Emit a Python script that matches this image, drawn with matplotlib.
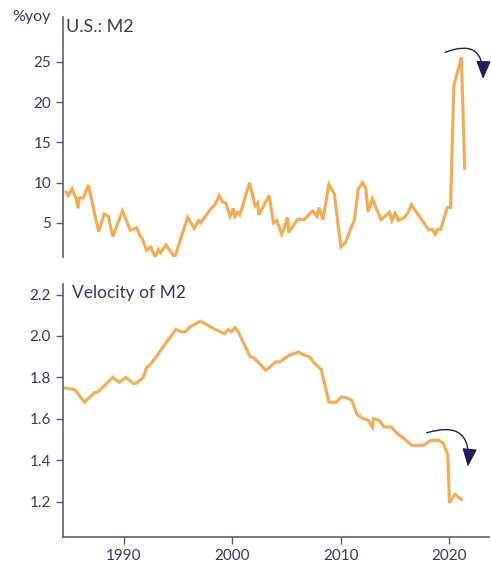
import matplotlib.pyplot as plt

plt.rcParams['font.family'] = ['Lato', 'DejaVu Sans']

# M2 money supply, % year over year
m2_years = [1984.7, 1984.9, 1985.25, 1985.6, 1985.8, 1985.9, 1986.3, 1986.75,
            1987.7, 1988.2, 1988.6, 1989.0, 1989.9, 1990.6, 1991.2, 1991.5,
            1991.7, 1992.1, 1992.5, 1992.9, 1993.2, 1993.4, 1993.9, 1994.7,
            1995.9, 1996.5, 1996.9, 1997.1, 1998.0, 1998.4, 1998.8, 1999.1,
            1999.4, 1999.8, 2000.1, 2000.25, 2000.5, 2000.7, 2001.6, 2002.1,
            2002.35, 2002.45, 2003.4, 2003.8, 2004.1, 2004.55, 2004.8, 2005.1,
            2005.2, 2006.0, 2006.6, 2007.4, 2007.8, 2008.0, 2008.35, 2008.9,
            2009.4, 2010.0, 2010.4, 2011.25, 2011.6, 2012.0, 2012.3, 2012.5,
            2012.9, 2013.7, 2014.5, 2014.7, 2015.0, 2015.3, 2015.9, 2016.2,
            2016.5, 2018.1, 2018.4, 2018.7, 2018.9, 2019.2, 2019.8, 2020.1,
            2020.4, 2021.1, 2021.4]
m2_yoy = [8.8, 8.4, 9.25, 8.1, 6.8, 8.1, 8.1, 9.7,
          3.9, 6.1, 5.8, 3.3, 6.5, 4.1, 4.4, 3.4,
          3.1, 1.6, 2.0, 0.7, 1.7, 1.3, 2.25, 0.7,
          5.7, 4.3, 5.3, 5.0, 6.7, 7.25, 8.4, 7.6,
          7.5, 5.8, 6.8, 5.8, 6.3, 6.0, 10.0, 7.1,
          7.5, 6.0, 8.4, 5.0, 5.3, 3.6, 4.4, 5.7,
          3.8, 5.4, 5.4, 6.5, 5.8, 6.9, 5.4, 9.8,
          8.6, 2.0, 2.5, 5.4, 9.2, 10.0, 9.3, 6.4,
          8.0, 5.4, 6.3, 5.3, 6.2, 5.3, 5.7, 6.3,
          7.25, 4.1, 4.2, 3.6, 4.2, 4.2, 6.9, 6.9,
          22.0, 25.6, 11.8]

# Velocity of M2
vel_years = [1984.6, 1985.5, 1986.4, 1987.3, 1987.7, 1989.0, 1989.6, 1990.2,
             1990.9, 1991.2, 1991.8, 1992.1, 1992.4, 1993.0, 1994.8, 1995.3,
             1995.7, 1996.1, 1997.1, 1998.35, 1999.3, 1999.6, 1999.9, 2000.25,
             2000.55, 2001.65, 2002.0, 2003.1, 2004.0, 2004.4, 2005.2, 2006.1,
             2006.6, 2007.1, 2007.6, 2008.2, 2008.9, 2009.6, 2010.05, 2010.4,
             2011.0, 2011.5, 2012.1, 2012.5, 2012.9, 2013.0, 2013.5, 2014.0,
             2014.65, 2015.2, 2015.7, 2016.5, 2017.6, 2018.3, 2019.05, 2019.45,
             2019.85, 2020.0, 2020.5, 2021.1]
velocity = [1.749, 1.741, 1.68, 1.725, 1.733, 1.80, 1.775, 1.80,
            1.77, 1.772, 1.80, 1.846, 1.86, 1.90, 2.032, 2.02,
            2.02, 2.044, 2.071, 2.034, 2.01, 2.03, 2.02, 2.04,
            2.02, 1.90, 1.894, 1.834, 1.875, 1.875, 1.905, 1.923,
            1.907, 1.90, 1.867, 1.838, 1.68, 1.68, 1.706, 1.703,
            1.69, 1.62, 1.60, 1.593, 1.56, 1.60, 1.593, 1.56,
            1.56, 1.528, 1.51, 1.472, 1.472, 1.496, 1.496, 1.48,
            1.427, 1.194, 1.234, 1.21]

line_col = '#f9a94e'
text_col = '#3a3866'
spine_col = '#5d5a85'
arrow_col = '#1f1c5e'

fig = plt.figure(figsize=(4.91, 5.65), dpi=100)
ax1 = fig.add_axes([0.128, 0.545, 0.867, 0.425])
ax2 = fig.add_axes([0.128, 0.050, 0.867, 0.447])

xlim = (1984.4, 2023.6)
arrow_props = dict(arrowstyle='-|>,head_length=1.1,head_width=0.45',
                   color=arrow_col, lw=1.0, shrinkA=0, shrinkB=0,
                   connectionstyle='arc3,rad=-0.75')

# top panel: M2 growth
ax1.plot(m2_years, m2_yoy, color=line_col, lw=2.2, solid_joinstyle='miter')
ax1.set_xlim(*xlim)
ax1.set_ylim(0.75, 30.6)
ax1.set_yticks([5, 10, 15, 20, 25])
for s in ['top', 'right', 'bottom']:
    ax1.spines[s].set_visible(False)
ax1.set_xticks([])
ax1.text(0.008, 0.99, 'U.S.: M2', transform=ax1.transAxes, ha='left', va='top',
         fontsize=13, color=text_col)
fig.text(0.025, 0.97, '%yoy', ha='left', va='center', fontsize=11.5, color=text_col)
ax1.annotate('', xy=(2023.1, 22.9), xytext=(2019.6, 26.2), arrowprops=arrow_props)

# bottom panel: velocity
ax2.plot(vel_years, velocity, color=line_col, lw=2.2, solid_joinstyle='miter')
ax2.set_xlim(*xlim)
ax2.set_ylim(1.03, 2.25)
ax2.set_yticks([1.2, 1.4, 1.6, 1.8, 2.0, 2.2])
ax2.set_yticklabels(['1.2', '1.4', '1.6', '1.8', '2.0', '2.2'])
ax2.set_xticks([1990, 2000, 2010, 2020])
for s in ['top', 'right']:
    ax2.spines[s].set_visible(False)
ax2.text(0.022, 0.995, 'Velocity of M2', transform=ax2.transAxes, ha='left', va='top',
         fontsize=12.5, color=text_col)
ax2.annotate('', xy=(2021.7, 1.369), xytext=(2017.9, 1.532), arrowprops=arrow_props)

for ax in (ax1, ax2):
    for s in ax.spines.values():
        s.set_color(spine_col)
        s.set_linewidth(1.2)
    ax.tick_params(colors=spine_col, labelcolor=text_col, labelsize=11,
                   length=5, width=1)

fig.savefig('out.png', dpi=100)
